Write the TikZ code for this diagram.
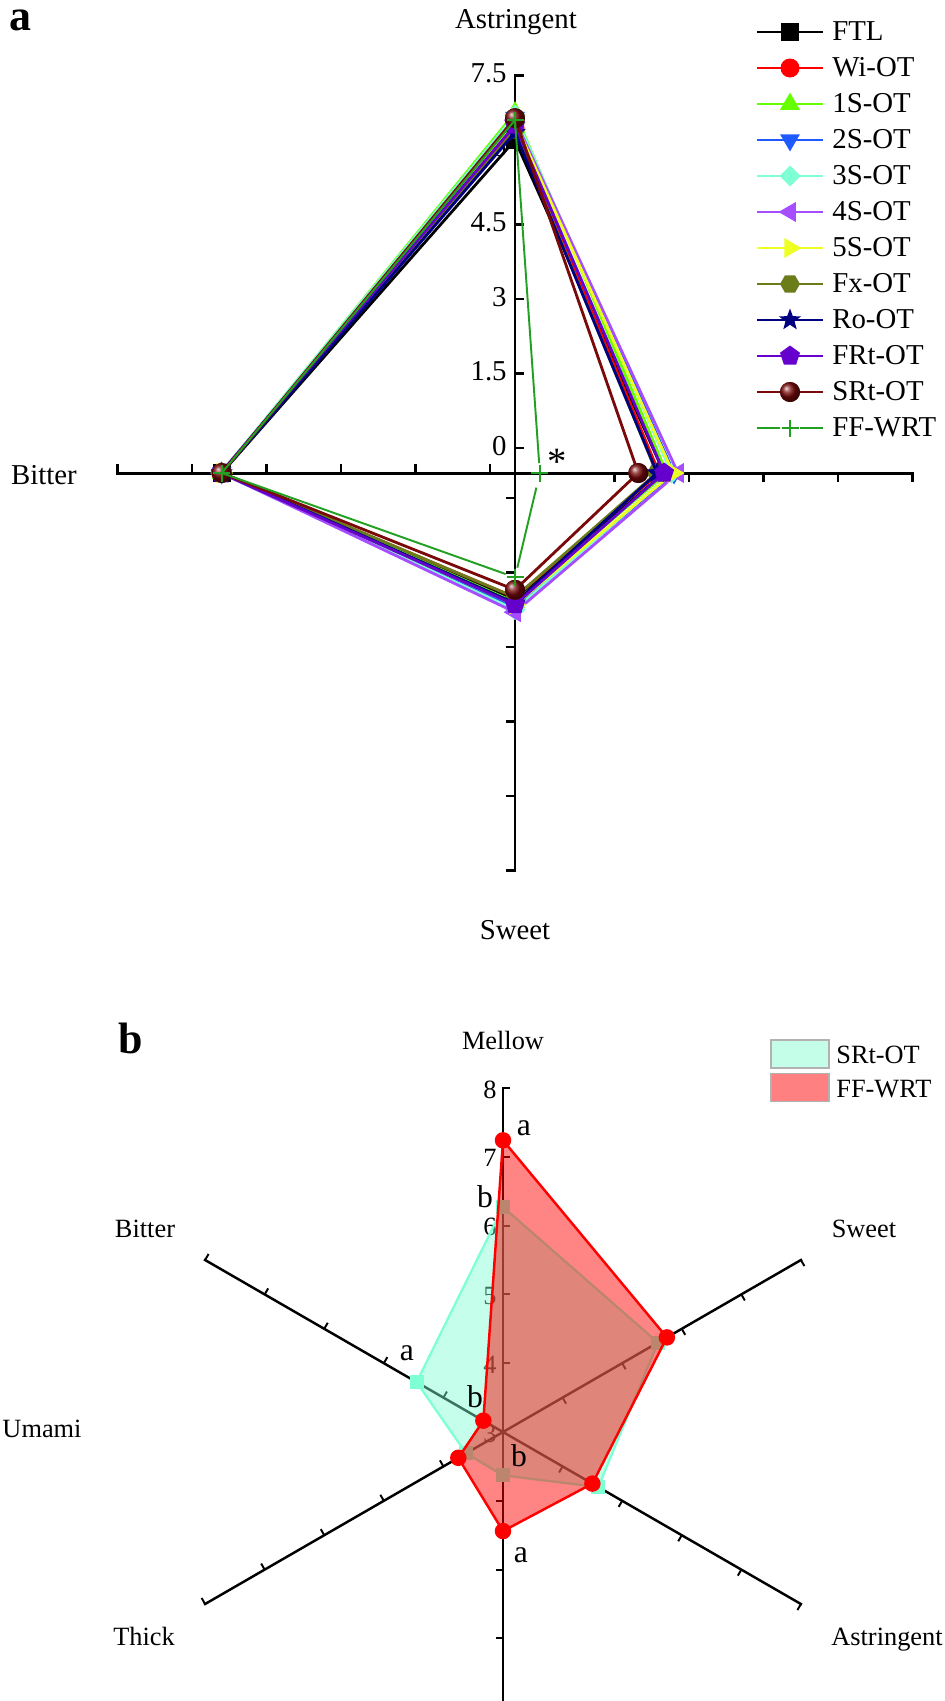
\documentclass[tikz,border=0pt]{standalone}
\usepackage{fontspec}
\setmainfont{Liberation Serif}
\usetikzlibrary{shapes.geometric}

\definecolor{colftl}{HTML}{000000}
\definecolor{colwi}{HTML}{FF0000}
\definecolor{colones}{HTML}{66FF00}
\definecolor{coltwos}{HTML}{1E5AFF}
\definecolor{colthrees}{HTML}{7FFFD4}
\definecolor{colfours}{HTML}{A64DFF}
\definecolor{colfives}{HTML}{EEFF22}
\definecolor{colfx}{HTML}{6B7D1A}
\definecolor{colro}{HTML}{000080}
\definecolor{colfrt}{HTML}{6600CC}
\definecolor{colsrt}{HTML}{7A0A0A}
\definecolor{colff}{HTML}{22A022}
\definecolor{aqua}{HTML}{7FFFD4}
\definecolor{aqualight}{HTML}{C4FDE8}
\definecolor{rosy}{HTML}{FF8080}

\tikzset{
  axln/.style={line width=1.7pt, line cap=rect},
  tickln/.style={line width=1.5pt},
  axb/.style={line width=1.4pt, line cap=rect},
  tickb/.style={line width=1.1pt},
  serie/.style={line width=1.6pt, line join=round},
  ffln/.style={line width=1.1pt, colff},
  txa/.style={font=\fontsize{16.4}{19}\selectfont, inner sep=0pt},
  txb/.style={font=\fontsize{15}{18}\selectfont, inner sep=0pt},
  lett/.style={font=\fontsize{18}{21}\selectfont, inner sep=0pt, anchor=base},
  panel/.style={font=\fontsize{25}{28}\selectfont\bfseries, inner sep=0pt},
  mkbase/.style={inner sep=0pt, outer sep=0pt},
  sqmk/.style={mkbase, rectangle, minimum size=0.36cm},
  dotmk/.style={mkbase, circle, minimum size=0.38cm},
  upmk/.style={mkbase, regular polygon, regular polygon sides=3, minimum size=0.46cm},
  dnmk/.style={upmk, shape border rotate=180},
  lfmk/.style={upmk, shape border rotate=90},
  rtmk/.style={upmk, shape border rotate=-90},
  dmdmk/.style={mkbase, diamond, minimum size=0.42cm},
  hexmk/.style={mkbase, regular polygon, regular polygon sides=6, minimum size=0.4cm},
  starmk/.style={mkbase, star, star points=5, star point ratio=2.4, minimum size=0.46cm},
  pentmk/.style={mkbase, regular polygon, regular polygon sides=5, minimum size=0.42cm},
  ballmk/.style={mkbase, circle, minimum size=0.4cm, ball color=colsrt},
  plusmk/.pic={\draw[colff, line width=1.1pt] (-0.17cm,0) -- (0.17cm,0) (0,-0.17cm) -- (0,0.17cm);},
  srtfill/.style={draw=aqua, line width=1.3pt, fill=aqua, fill opacity=0.45, line join=round},
  fffill/.style={draw=red, line width=1.4pt, fill=red, fill opacity=0.48, line join=round},
  sqb/.style={mkbase, rectangle, fill=aqua, minimum size=0.28cm},
  dotb/.style={mkbase, circle, fill=red, minimum size=0.33cm},
  lgbox/.style={draw=gray!60, line width=0.8pt, minimum width=1.16cm, minimum height=0.56cm, inner sep=0pt}
}

% key/legend text/marker/astringent/right/sweet/bitter
\def\serlist{ftl/FTL/sqmk/6.2/2.5/2.05/5.4,
  wi/Wi-OT/dotmk/6.45/2.4/2.0/5.42,
  ones/1S-OT/upmk/6.75/2.55/2.1/5.4,
  twos/2S-OT/dnmk/6.65/2.7/2.2/5.4,
  threes/3S-OT/dmdmk/6.7/2.65/2.25/5.42,
  fours/4S-OT/lfmk/6.6/2.78/2.3/5.4,
  fives/5S-OT/rtmk/6.55/2.68/2.15/5.4,
  fx/Fx-OT/hexmk/6.4/2.35/2.0/5.4,
  ro/Ro-OT/starmk/6.35/2.36/2.12/5.4,
  frt/FRt-OT/pentmk/6.5/2.5/2.15/5.42,
  srt/SRt-OT/ballmk/6.64/1.98/1.85/5.4}

\begin{document}
\begin{tikzpicture}[x=0.02cm, y=-0.02cm]
  \useasboundingbox (0,0) rectangle (945,1701);

  % panel a
  \node[panel, anchor=base] (pa) at (20,30) {a};
  \node[txa, anchor=base] (tastr) at (516,28) {Astringent};
  \node[txa, anchor=base] (tbit) at (44,484) {Bitter};
  \node[txa, anchor=base] (tsweet) at (515,939) {Sweet};

  \begin{scope}[shift={(515,473)}, y=0.02cm]
    \def\au{49.7}
    \foreach \v [count=\j] in {0,1.5,3,4.5,6,7.5}
      \node[txa, anchor=base east] (tl\j) at (-8,{(\v+0.5)*\au-7}) {\v};
    \coordinate (up) at (0,{8*\au});
    \coordinate (dn) at (0,{-8*\au});
    \coordinate (lf) at ({-8*\au},0);
    \coordinate (rt) at ({8*\au},0);
    \draw[axln] (lf) -- (rt);
    \draw[axln] (dn) -- (up);
    \foreach \v in {0,1.5,...,7.5} {
      \draw[tickln] (0,{(\v+0.5)*\au}) -- ++(9,0);
      \draw[tickln] ({(\v+0.5)*\au},0) -- ++(0,-9);
      \draw[tickln] (0,{-(\v+0.5)*\au}) -- ++(-9,0);
      \draw[tickln] ({-(\v+0.5)*\au},0) -- ++(0,9);
    }

    \foreach \k/\lab/\mk/\va/\vr/\vs/\vb in \serlist {
      \coordinate (\k-a) at (0,{(\va+0.5)*\au});
      \coordinate (\k-r) at ({(\vr+0.5)*\au},0);
      \coordinate (\k-s) at (0,{-(\vs+0.5)*\au});
      \coordinate (\k-b) at ({-(\vb+0.5)*\au},0);
      \draw[serie, col\k] (\k-a) -- (\k-r) -- (\k-s) -- (\k-b) -- cycle;
      \foreach \p in {a,r,s,b}
        \node[\mk, fill=col\k] (\k-m\p) at (\k-\p) {};
    }

    \coordinate (ff-a) at (0,{7.1*\au});
    \coordinate (ff-r) at ({0.5*\au},0);
    \coordinate (ff-s) at (0,{-2.1*\au});
    \coordinate (ff-b) at ({-5.9*\au},0);
    \draw[ffln, shorten >=0.2cm] (ff-a) -- (ff-r);
    \draw[ffln, shorten <=0.3cm, shorten >=0.2cm] (ff-r) -- (ff-s);
    \draw[ffln, shorten <=0.2cm] (ff-s) -- (ff-b);
    \draw[ffln] (ff-b) -- (ff-a);
    \foreach \p in {a,r,s,b}
      \pic at (ff-\p) {plusmk};
  \end{scope}
  \node[font=\fontsize{22}{24}\selectfont, inner sep=0pt] (star) at (557,462) {*};

  % legend a
  \foreach \k/\lab/\mk/\va/\vr/\vs/\vb [count=\i] in \serlist {
    \pgfmathsetmacro\ly{32+36*(\i-1)}
    \coordinate (\k-l0) at (757,\ly);
    \coordinate (\k-l1) at (823,\ly);
    \draw[serie, col\k] (\k-l0) -- (\k-l1);
    \node[\mk, fill=col\k] (\k-lm) at (790,\ly) {};
    \node[txa, anchor=base west] (\k-lt) at (832,\ly+8) {\lab};
  }
  \coordinate (ff-l0) at (757,428);
  \coordinate (ff-l1) at (780,428);
  \coordinate (ff-l2) at (800,428);
  \coordinate (ff-l3) at (823,428);
  \draw[ffln, line width=1.6pt] (ff-l0) -- (ff-l1) (ff-l2) -- (ff-l3);
  \pic at (790,428) {plusmk};
  \node[txa, anchor=base west] (ff-lt) at (832,436) {FF-WRT};

  % panel b
  \node[panel, anchor=base] (pb) at (131,1053) {b};
  \node[txb, anchor=base] (tmel) at (503,1049) {Mellow};
  \node[txb, anchor=base] (tbitb) at (145,1237) {Bitter};
  \node[txb, anchor=base] (tswb) at (864,1237) {Sweet};
  \node[txb, anchor=base] (tuma) at (42,1437) {Umami};
  \node[txb, anchor=base] (tthi) at (144,1645) {Thick};
  \node[txb, anchor=base] (tastb) at (887,1645) {Astringent};

  \begin{scope}[shift={(503,1432)}, y=0.02cm]
    \def\bu{68.8}
    \foreach \v in {3,...,8}
      \node[txb, anchor=base east] (mv\v) at (-6,{(\v-3)*\bu-10}) {\v};
    \foreach \t/\n in {90/me,30/sw,-30/as,210/th,150/bi} {
      \coordinate (ax\n) at (\t:344);
      \draw[axb] (0,0) -- (ax\n);
      \foreach \v in {1,...,5}
        \draw[tickb] (\t:{\v*\bu}) -- ++(\t-90:7);
    }
    \coordinate (axbo) at (0,-269);
    \draw[axb] (0,0) -- (axbo);
    \foreach \v in {1,...,3}
      \draw[tickb] (0,{-\v*\bu}) -- ++(-7,0);

    % SRt-OT
    \foreach \t/\v [count=\i] in {90/6.27,30/5.6,-30/4.6,-90/3.63,210/3.62,150/4.45}
      \coordinate (s\i) at (\t:{(\v-3)*\bu});
    \draw[srtfill] (s1) -- (s2) -- (s3) -- (s4) -- (s5) -- (s6) -- cycle;
    \foreach \i in {1,...,6}
      \node[sqb] (sm\i) at (s\i) {};

    % FF-WRT
    \foreach \t/\v [count=\i] in {90/7.24,30/5.75,-30/4.5,-90/4.44,210/3.75,150/3.33}
      \coordinate (f\i) at (\t:{(\v-3)*\bu});
    \draw[fffill] (f1) -- (f2) -- (f3) -- (f4) -- (f5) -- (f6) -- cycle;
    \foreach \i in {1,...,6}
      \node[dotb] (fm\i) at (f\i) {};
  \end{scope}

  \node[lett] (la1) at (524,1135) {a};
  \node[lett] (lb1) at (485,1207) {b};
  \node[lett] (la2) at (407,1360) {a};
  \node[lett] (lb2) at (475,1407) {b};
  \node[lett] (lb3) at (519,1466) {b};
  \node[lett] (la3) at (521,1562) {a};

  % legend b
  \node[lgbox, fill=aqualight] (lgs) at (800,1054) {};
  \node[lgbox, fill=rosy] (lgf) at (800,1087.5) {};
  \node[txb, anchor=base west] (lgst) at (836,1063) {SRt-OT};
  \node[txb, anchor=base west] (lgft) at (836,1097) {FF-WRT};
\end{tikzpicture}
\end{document}
